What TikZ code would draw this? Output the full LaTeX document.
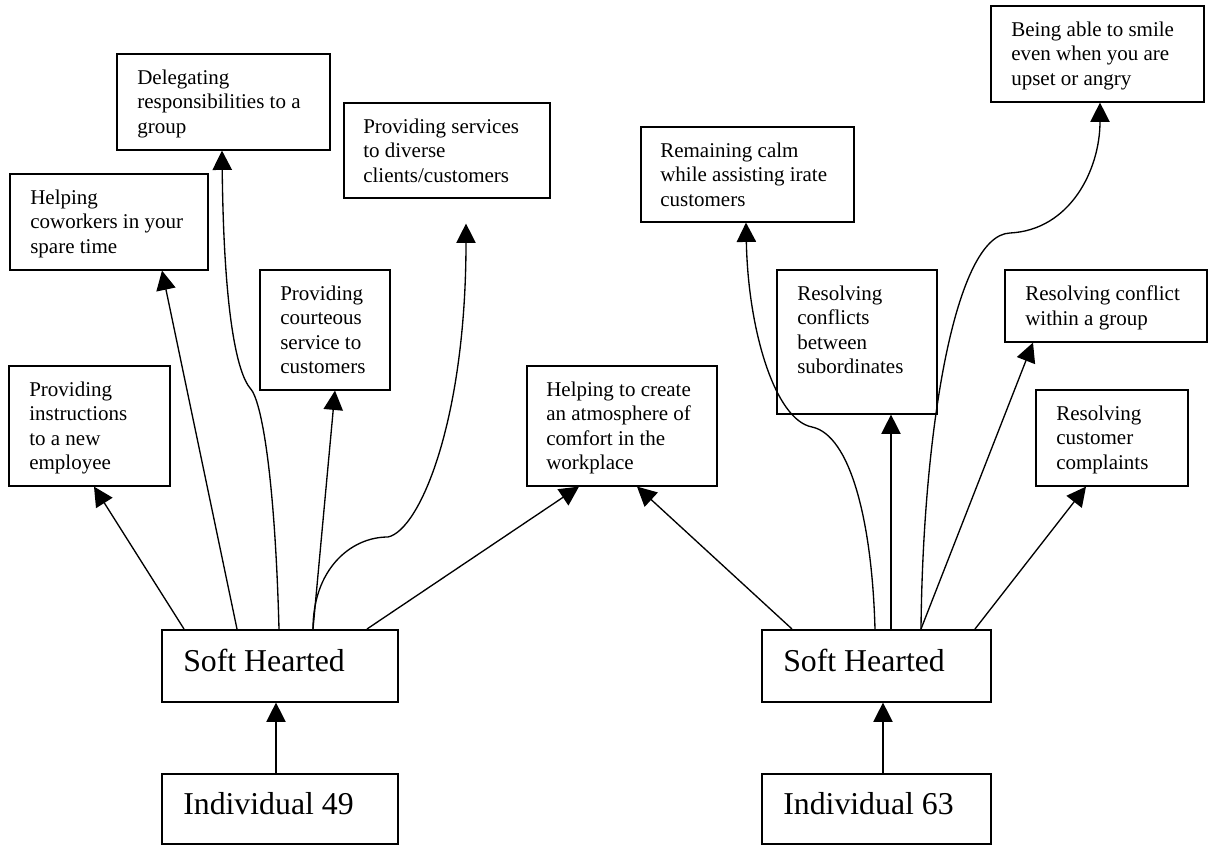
\documentclass[tikz,border=0pt]{standalone}
\usepackage{fontspec}
\setmainfont{Liberation Serif}
\usetikzlibrary{arrows.meta,calc}

\tikzset{
  box/.style={draw, line width=1.2pt, anchor=north west, inner sep=0pt},
  txt/.style={anchor=north west, inner sep=0pt, align=left,
    font=\fontsize{15.75pt}{18.4pt}\selectfont},
  bigtxt/.style={anchor=north west, inner sep=0pt, align=left,
    font=\fontsize{23.85pt}{27pt}\selectfont},
  arr/.style={line width=1pt, -{Triangle[length=14.5pt,width=14.5pt]}},
}

% \boxat{name}{x}{y}{width}{height}, all in pixel units
\newcommand\boxat[5]{%
  \node[box, minimum width=#4*0.75pt, minimum height=#5*0.75pt] (#1) at (#2,#3) {};}

\begin{document}
\begin{tikzpicture}[x=0.75pt,y=-0.75pt]
\useasboundingbox (0,0) rectangle (1208,845);

% ---- boxes ----
\boxat{instr}{8}{365}{161}{120}
\boxat{cowork}{9}{173}{198}{96}
\boxat{deleg}{116}{53}{213}{96}
\boxat{divers}{343}{102}{206}{95}
\boxat{court}{259}{269}{130}{120}
\boxat{atmos}{526}{365}{190}{120}
\boxat{calm}{640}{126}{213}{95}
\boxat{subord}{776}{269}{160}{144}
\boxat{smile}{990}{5}{213}{96}
\boxat{group}{1004}{269}{202}{72}
\boxat{compl}{1035}{389}{152}{96}
\boxat{softA}{161}{629}{236}{72}
\boxat{indA}{161}{773}{236}{70}
\boxat{softB}{761}{629}{229}{72}
\boxat{indB}{761}{773}{229}{70}

% ---- texts ----
\node[txt] (instr-t)  at ($(instr.north west)+(21,16.5)$)  {Providing\\instructions\\to a new\\employee};
\node[txt] (cowork-t) at ($(cowork.north west)+(21,16.5)$) {Helping\\coworkers in your\\spare time};
\node[txt] (deleg-t)  at ($(deleg.north west)+(21,16.5)$)  {Delegating\\responsibilities to a\\group};
\node[txt] (divers-t) at ($(divers.north west)+(20,16.5)$) {Providing services\\to diverse\\clients/customers};
\node[txt] (court-t)  at ($(court.north west)+(21,16.5)$)  {Providing\\courteous\\service to\\customers};
\node[txt] (atmos-t)  at ($(atmos.north west)+(20,16.5)$)  {Helping to create\\an atmosphere of\\comfort in the\\workplace};
\node[txt] (calm-t)   at ($(calm.north west)+(20,16.5)$)   {Remaining calm\\while assisting irate\\customers};
\node[txt] (subord-t) at ($(subord.north west)+(21,16.5)$) {Resolving\\conflicts\\between\\subordinates};
\node[txt] (smile-t)  at ($(smile.north west)+(21,16.5)$)  {Being able to smile\\even when you are\\upset or angry};
\node[txt] (group-t)  at ($(group.north west)+(21,16.5)$)  {Resolving conflict\\within a group};
\node[txt] (compl-t)  at ($(compl.north west)+(21,16.5)$)  {Resolving\\customer\\complaints};
\node[bigtxt] (softA-t) at ($(softA.north west)+(22,19.5)$) {Soft Hearted};
\node[bigtxt] (indA-t)  at ($(indA.north west)+(22,19.5)$)  {Individual 49};
\node[bigtxt] (softB-t) at ($(softB.north west)+(22,19.5)$) {Soft Hearted};
\node[bigtxt] (indB-t)  at ($(indB.north west)+(22,19.5)$)  {Individual 63};

% ---- left cluster ----
\draw[arr] ($(indA.north west)+(115,0)$) -- ($(softA.south west)+(115,0)$);
\draw[arr] ($(softA.north west)+(23,0)$) -- ($(instr.south west)+(86,0)$);
\draw[arr] ($(softA.north west)+(76,0)$) -- ($(cowork.south west)+(153,0)$);
\draw[arr] ($(softA.north west)+(118,0)$)
  .. controls (275,480) and (262,400) .. (250,388)
  .. controls (240,376) and (224,330) .. ($(deleg.south west)+(106,0)$);
\draw[arr] ($(softA.north west)+(152,0)$) -- ($(court.south west)+(76,0)$);
\draw[arr] ($(softA.north west)+(152,0)$)
  .. controls (313,570) and (350,537) .. (388,537)
  .. controls (420,530) and (466,420) .. ($(divers.south west)+(123,25)$);
\draw[arr] ($(softA.north west)+(206,0)$) -- ($(atmos.south west)+(53,0)$);

% ---- right cluster ----
\draw[arr] ($(indB.north west)+(122,0)$) -- ($(softB.south west)+(122,0)$);
\draw[arr] ($(softB.north west)+(31,0)$) -- ($(atmos.south west)+(111,0)$);
\draw[arr] ($(softB.north west)+(114,0)$)
  .. controls (872,520) and (850,435) .. (812,427)
  .. controls (775,420) and (748,330) .. ($(calm.south west)+(106,0)$);
\draw[arr] ($(softB.north west)+(130,0)$) -- ($(subord.south west)+(115,0)$);
\draw[arr] ($(softB.north west)+(160,0)$)
  .. controls (923,430) and (955,235) .. (1010,233)
  .. controls (1070,230) and (1100,170) .. ($(smile.south west)+(110,0)$);
\draw[arr] ($(softB.north west)+(160,0)$) -- ($(group.south west)+(29,0)$);
\draw[arr] ($(softB.north west)+(214,0)$) -- ($(compl.south west)+(51,0)$);
\end{tikzpicture}
\end{document}
